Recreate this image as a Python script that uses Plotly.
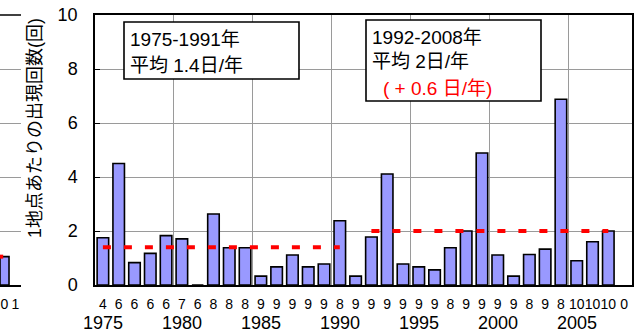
import plotly.graph_objects as go

# ---- data ----
years = list(range(1975, 2009))
values = [1.75, 4.5, 0.83, 1.17, 1.83, 1.71, 0, 2.63, 1.38, 1.38,
          0.33, 0.67, 1.11, 0.67, 0.78, 2.38, 0.33, 1.78, 4.11, 0.78,
          0.67, 0.56, 1.38, 2.0, 4.89, 1.11, 0.33, 1.13, 1.33, 6.88,
          0.9, 1.6, 2.0, None]
stations = ["4", "6", "6", "6", "6", "7", "6", "8", "8", "8",
            "9", "9", "9", "9", "9", "8", "9", "9", "9", "9",
            "9", "9", "8", "9", "9", "9", "9", "8", "9", "8",
            "10", "10", "10", "0"]
year_labels = [1975, 1980, 1985, 1990, 1995, 2000, 2005]
mean1_x = [1975, 1990]
mean1_y = [1.4, 1.4]
mean2_x = [1992, 2007]
mean2_y = [2.0, 2.0]
y_ticks = [0, 2, 4, 6, 8, 10]

# fragment of the neighbouring chart at the left edge
frag_x = [0]
frag_vals = [1.05]
frag_ticks = ["0", "1"]
frag_mean_x = [-0.45, -0.12]
frag_mean_y = [1.05, 1.05]

W, H = 634, 335
FONT = "Liberation Sans, Arial, Noto Sans CJK JP, sans-serif"
GRID = "#9a9a9a"

def px(x):
    return x / W

T, B = 15, 285
def py(y):
    return (B - y) / (B - T)

fig = go.Figure()

fig.add_trace(go.Bar(
    x=years, y=values, marker=dict(color="#9999FF", line=dict(color="black", width=1.6)),
    xaxis="x", yaxis="y", showlegend=False))
fig.add_trace(go.Scatter(
    x=mean1_x, y=mean1_y, mode="lines",
    line=dict(color="#FF0000", width=4, dash="8px,13px"),
    xaxis="x", yaxis="y", showlegend=False))
fig.add_trace(go.Scatter(
    x=mean2_x, y=mean2_y, mode="lines",
    line=dict(color="#FF0000", width=4, dash="8px,13px"),
    xaxis="x", yaxis="y", showlegend=False))

# fragment
fig.add_trace(go.Bar(
    x=frag_x, y=frag_vals, width=0.82,
    marker=dict(color="#9999FF", line=dict(color="black", width=1.6)),
    xaxis="x2", yaxis="y2", showlegend=False))
fig.add_trace(go.Scatter(
    x=frag_mean_x, y=frag_mean_y, mode="lines",
    line=dict(color="#FF0000", width=4),
    xaxis="x2", yaxis="y2", showlegend=False))

fig.update_layout(
    width=W, height=H,
    margin=dict(l=0, r=0, t=T, b=H - B, autoexpand=False),
    paper_bgcolor="white", plot_bgcolor="white",
    font=dict(family=FONT, color="black", size=14),
    bargap=0.27,
    xaxis=dict(
        domain=[px(95), px(632)], anchor="y",
        range=[1974.5, 2008.5],
        tickmode="array", tickvals=years, ticktext=stations,
        tickfont=dict(size=14), tickangle=0, ticks="", showgrid=False,
        ticklabelstandoff=5,
        showline=True, linecolor="black", linewidth=1.5, mirror=True,
        minor=dict(tick0=1974.5, dtick=5, showgrid=True, gridcolor=GRID,
                   gridwidth=1, ticks=""),
        zeroline=False, automargin=False,
    ),
    yaxis=dict(
        domain=[0, 1], anchor="x",
        range=[0, 10], tickmode="array", tickvals=y_ticks,
        tickfont=dict(size=18), ticks="inside", ticklen=5, tickcolor="black",
        ticklabelstandoff=12,
        showgrid=True, gridcolor=GRID, gridwidth=1,
        showline=True, linecolor="black", linewidth=1.5, mirror=True,
        zeroline=False, automargin=False,
    ),
    xaxis2=dict(
        domain=[0, px(21)], anchor="y2",
        range=[-0.41, 1.5], tickmode="array", tickvals=[0, 1], ticktext=frag_ticks,
        tickfont=dict(size=14), tickangle=0, ticklabelstandoff=5,
        showgrid=False, showline=True, linecolor="black",
        linewidth=1.5, zeroline=False, automargin=False,
    ),
    yaxis2=dict(
        domain=[0, 1], anchor="x2", range=[0, 10], tickvals=y_ticks,
        showticklabels=False, showgrid=True, gridcolor=GRID, showline=False,
        zeroline=False, automargin=False,
    ),
)

shapes = [
    dict(type="line", xref="paper", yref="paper", x0=0, x1=px(21), y0=1, y1=1,
         line=dict(color="black", width=1.5)),
    dict(type="rect", xref="paper", yref="paper",
         x0=px(124), x1=px(299), y0=py(79), y1=py(22),
         fillcolor="white", line=dict(color="black", width=1.6), layer="above"),
    dict(type="rect", xref="paper", yref="paper",
         x0=px(366), x1=px(541), y0=py(101), y1=py(20),
         fillcolor="white", line=dict(color="black", width=1.6), layer="above"),
]
fig.update_layout(shapes=shapes)

ann = []
for yr in year_labels:
    ann.append(dict(x=yr, y=py(323), xref="x", yref="paper", text=str(yr),
                    showarrow=False, font=dict(size=18), xanchor="center", yanchor="middle"))

def txt(x, y, s, color="black"):
    ann.append(dict(x=px(x), y=py(y), xref="paper", yref="paper", text=s, showarrow=False,
                    font=dict(size=19, color=color), xanchor="left", yanchor="middle"))

txt(128, 39, "1975-1991年")
txt(128, 65, "平均 1.4日/年")
txt(370, 37, "1992-2008年")
txt(370, 62, "平均 2日/年")
txt(381, 88, "( + 0.6 日/年)", color="#FF0000")

ann.append(dict(x=px(35), y=py(128), xref="paper", yref="paper",
                text="1地点あたりの出現回数(回)", textangle=-90, showarrow=False,
                font=dict(size=18), xanchor="center", yanchor="middle"))
fig.update_layout(annotations=ann)

fig.write_html("out.html", config={"displayModeBar": False},
               post_script="document.body.style.margin='0';document.body.style.overflow='hidden';")
